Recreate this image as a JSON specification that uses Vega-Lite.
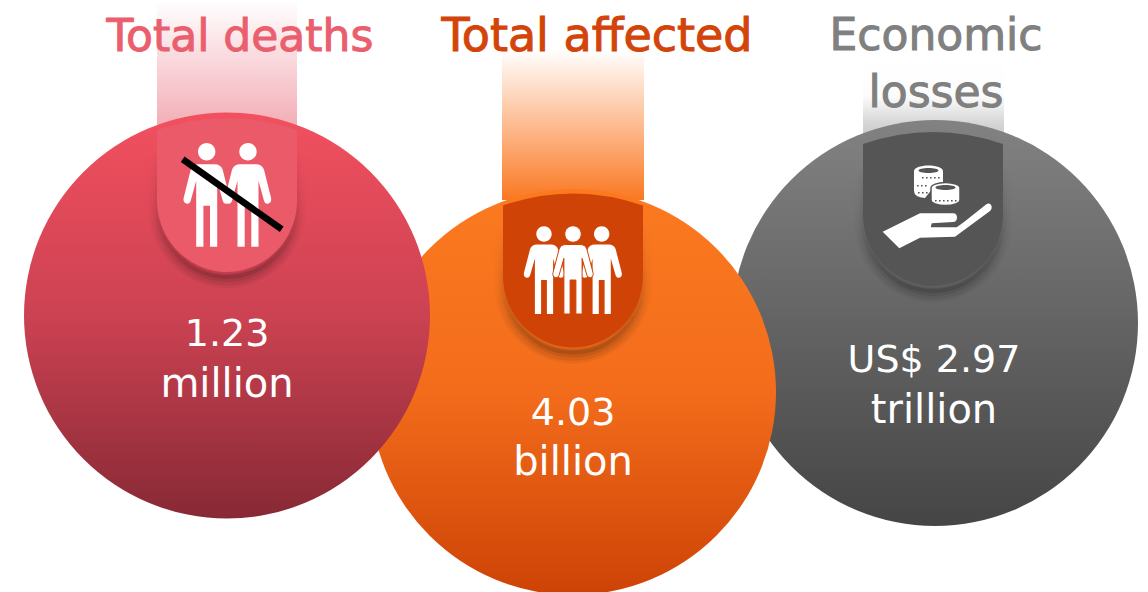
{
  "$schema": "https://vega.github.io/schema/vega-lite/v6.json",
  "width": 1148,
  "height": 592,
  "padding": 0,
  "autosize": {"type": "none"},
  "background": "white",
  "view": {"stroke": null},
  "data": {"values": [
    {"order": 1, "metric": "Total deaths", "title": "Total deaths", "figure": "1.23", "unit": "million"},
    {"order": 2, "metric": "Total affected", "title": "Total affected", "figure": "4.03", "unit": "billion"},
    {"order": 3, "metric": "Economic losses", "title": "Economic\nlosses", "figure": "US$ 2.97", "unit": "trillion"}
  ]},
  "resolve": {"scale": {"x": "independent", "y": "independent", "color": "independent", "size": "independent"}},
  "encoding": {
    "x": {"field": "order", "type": "quantitative", "axis": null, "scale": {"domain": [1, 2, 3], "range": [227, 573, 933], "zero": false, "nice": false}},
    "y": {"field": "order", "type": "quantitative", "axis": null, "scale": {"domain": [1, 2, 3], "range": [195, 270.5, 209], "zero": false, "nice": false}}
  },
  "layer": [
    {
      "transform": [{"filter": "datum.order === 3"}],
      "mark": {"type": "point", "filled": true, "opacity": 1, "size": 4, "shape": "M-70.5,0 L70.5,0 L70.5,90 L-70.5,90 Z",
        "color": {"gradient": "linear", "x1": 0, "y1": 0, "x2": 0, "y2": 1, "stops": [{"offset": 0, "color": "#ffffff"}, {"offset": 0.4, "color": "#fcfcfc"}, {"offset": 0.7, "color": "#d6d6d6"}, {"offset": 1, "color": "#c0c0c0"}]}},
      "encoding": {
        "x": {"field": "order", "type": "quantitative", "axis": null, "scale": {"domain": [1, 2, 3], "range": [227, 573, 933.5], "zero": false, "nice": false}},
        "y": {"field": "order", "type": "quantitative", "axis": null, "scale": {"domain": [1, 2, 3], "range": [0, 50, 60], "zero": false, "nice": false}}
      }
    },
    {
      "transform": [{"filter": "datum.order === 3"}],
      "mark": {"type": "point", "filled": true, "opacity": 1, "shape": "circle", "size": 164836,
        "color": {"gradient": "linear", "x1": 0, "y1": 0, "x2": 0, "y2": 1, "stops": [{"offset": 0, "color": "#828282"}, {"offset": 1, "color": "#454545"}]}},
      "encoding": {
        "x": {"field": "order", "type": "quantitative", "axis": null, "scale": {"domain": [1, 2, 3], "range": [227, 573, 935], "zero": false, "nice": false}},
        "y": {"field": "order", "type": "quantitative", "axis": null, "scale": {"domain": [1, 2, 3], "range": [315.5, 392, 323], "zero": false, "nice": false}}
      }
    },
    {
      "transform": [{"filter": "datum.order === 2"}],
      "mark": {"type": "point", "filled": true, "opacity": 1, "size": 4, "shape": "M-71,0 L71,0 L71,150 L-71,150 Z",
        "color": {"gradient": "linear", "x1": 0, "y1": 0, "x2": 0, "y2": 1, "stops": [{"offset": 0, "color": "#ffffff"}, {"offset": 1, "color": "#fa7822"}]}},
      "encoding": {
        "y": {"field": "order", "type": "quantitative", "axis": null, "scale": {"domain": [1, 2, 3], "range": [0, 50, 60], "zero": false, "nice": false}}
      }
    },
    {
      "transform": [{"filter": "datum.order === 2"}],
      "mark": {"type": "point", "filled": true, "opacity": 1, "shape": "circle", "size": 164836,
        "color": {"gradient": "linear", "x1": 0, "y1": 0, "x2": 0, "y2": 1, "stops": [{"offset": 0, "color": "#fb7a20"}, {"offset": 0.5, "color": "#f36c1b"}, {"offset": 1, "color": "#cd4306"}]}},
      "encoding": {
        "x": {"field": "order", "type": "quantitative", "axis": null, "scale": {"domain": [1, 2, 3], "range": [227, 573, 935], "zero": false, "nice": false}},
        "y": {"field": "order", "type": "quantitative", "axis": null, "scale": {"domain": [1, 2, 3], "range": [315.5, 392, 323], "zero": false, "nice": false}}
      }
    },
    {
      "transform": [{"filter": "datum.order === 1"}],
      "mark": {"type": "point", "filled": true, "opacity": 1, "size": 4, "shape": "M-70,0 L70,0 L70,135 L-70,135 Z",
        "color": {"gradient": "linear", "x1": 0, "y1": 0, "x2": 0, "y2": 1, "stops": [{"offset": 0, "color": "#ffffff"}, {"offset": 1, "color": "#f2a8b1"}]}},
      "encoding": {
        "y": {"field": "order", "type": "quantitative", "axis": null, "scale": {"domain": [1, 2, 3], "range": [0, 50, 60], "zero": false, "nice": false}}
      }
    },
    {
      "transform": [{"filter": "datum.order === 1"}],
      "mark": {"type": "point", "filled": true, "opacity": 1, "shape": "circle", "size": 164836,
        "color": {"gradient": "linear", "x1": 0, "y1": 0, "x2": 0, "y2": 1, "stops": [{"offset": 0, "color": "#f2505f"}, {"offset": 0.5, "color": "#cc4252"}, {"offset": 1, "color": "#872935"}]}},
      "encoding": {
        "x": {"field": "order", "type": "quantitative", "axis": null, "scale": {"domain": [1, 2, 3], "range": [227, 573, 935], "zero": false, "nice": false}},
        "y": {"field": "order", "type": "quantitative", "axis": null, "scale": {"domain": [1, 2, 3], "range": [315.5, 392, 323], "zero": false, "nice": false}}
      }
    },
    {"mark": {"type": "point", "filled": false, "fillOpacity": 0, "opacity": 1, "strokeOpacity": 0.05, "strokeWidth": 18, "yOffset": 7, "size": 4, "shape": "M-70,-55 L70,-55 L70,5 C70,48 35,77 0,77 C-35,77 -70,48 -70,5 Z",
      "stroke": {"gradient": "linear", "x1": 0, "y1": 0, "x2": 0, "y2": 1, "stops": [{"offset": 0, "color": "rgba(0,0,0,0)"}, {"offset": 0.5, "color": "rgba(0,0,0,0.35)"}, {"offset": 1, "color": "rgba(0,0,0,1)"}]}}},
    {"mark": {"type": "point", "filled": false, "fillOpacity": 0, "opacity": 1, "strokeOpacity": 0.07, "strokeWidth": 13, "yOffset": 7, "size": 4, "shape": "M-70,-55 L70,-55 L70,5 C70,48 35,77 0,77 C-35,77 -70,48 -70,5 Z",
      "stroke": {"gradient": "linear", "x1": 0, "y1": 0, "x2": 0, "y2": 1, "stops": [{"offset": 0, "color": "rgba(0,0,0,0)"}, {"offset": 0.5, "color": "rgba(0,0,0,0.35)"}, {"offset": 1, "color": "rgba(0,0,0,1)"}]}}},
    {"mark": {"type": "point", "filled": false, "fillOpacity": 0, "opacity": 1, "strokeOpacity": 0.09, "strokeWidth": 8, "yOffset": 6, "size": 4, "shape": "M-70,-55 L70,-55 L70,5 C70,48 35,77 0,77 C-35,77 -70,48 -70,5 Z",
      "stroke": {"gradient": "linear", "x1": 0, "y1": 0, "x2": 0, "y2": 1, "stops": [{"offset": 0, "color": "rgba(0,0,0,0)"}, {"offset": 0.5, "color": "rgba(0,0,0,0.35)"}, {"offset": 1, "color": "rgba(0,0,0,1)"}]}}},
    {"mark": {"type": "point", "filled": false, "fillOpacity": 0, "opacity": 1, "strokeOpacity": 0.12, "strokeWidth": 4, "yOffset": 5, "size": 4, "shape": "M-70,-55 L70,-55 L70,5 C70,48 35,77 0,77 C-35,77 -70,48 -70,5 Z",
      "stroke": {"gradient": "linear", "x1": 0, "y1": 0, "x2": 0, "y2": 1, "stops": [{"offset": 0, "color": "rgba(0,0,0,0)"}, {"offset": 0.5, "color": "rgba(0,0,0,0.35)"}, {"offset": 1, "color": "rgba(0,0,0,1)"}]}}},
    {
      "mark": {"type": "point", "filled": true, "opacity": 1, "size": 4, "shape": "M-70,-65 Q0,-89 70,-65 L70,5 C70,48 35,77 0,77 C-35,77 -70,48 -70,5 Z"},
      "encoding": {
        "color": {"field": "metric", "type": "nominal", "legend": null, "scale": {"domain": ["Total deaths", "Total affected", "Economic losses"], "range": ["#ea5a69", "#cf4406", "#555555"]}}
      }
    },
    {
      "transform": [{"filter": "datum.order === 1"}],
      "mark": {"type": "point", "filled": true, "opacity": 1, "size": 4, "color": "#ffffff",
        "shape": "M-29,-43.3 a8.7,8.7 0 1 1 17.4,0 a8.7,8.7 0 1 1 -17.4,0 z M-28.3,-30.8 l16,0 q6,0 8,5.5 l7,28 q1,5 -3,6 q-3,0.5 -4,-3 l-5.5,-20 l0,66 l-7.2,0 l0,-41 l-6.6,0 l0,41 l-7.2,0 l0,-66 l-5.5,20 q-1,3.5 -4,3 q-4,-1 -3,-6 l7,-28 q2,-5.5 8,-5.5 z M12.3,-43.3 a8.7,8.7 0 1 1 17.4,0 a8.7,8.7 0 1 1 -17.4,0 z M13,-30.8 l16,0 q6,0 8,5.5 l7,28 q1,5 -3,6 q-3,0.5 -4,-3 l-5.5,-20 l0,66 l-7.2,0 l0,-41 l-6.6,0 l0,41 l-7.2,0 l0,-66 l-5.5,20 q-1,3.5 -4,3 q-4,-1 -3,-6 l7,-28 q2,-5.5 8,-5.5 z"}
    },
    {
      "transform": [{"filter": "datum.order === 1"}],
      "mark": {"type": "point", "filled": true, "opacity": 1, "size": 4, "color": "#000000", "shape": "M-42.4,-38.4 L56.6,31.6 L52.8,37 L-46.2,-33 Z"}
    },
    {
      "transform": [{"filter": "datum.order === 2"}],
      "mark": {"type": "point", "filled": true, "opacity": 1, "size": 4, "color": "#ffffff",
        "shape": "M-36.7,-36.5 a7.7,7.7 0 1 1 15.4,0 a7.7,7.7 0 1 1 -15.4,0 z M-36,-26 l14,0 q5.2,0 6.9,4.6 l6.1,23.5 q0.9,4.2 -2.6,5.1 q-2.6,0.4 -3.5,-2.5 l-4.8,-16.8 l0,55.6 l-6.2,0 l0,-34 l-5.8,0 l0,34 l-6.2,0 l0,-55.6 l-4.8,16.8 q-0.9,2.9 -3.5,2.5 q-3.5,-0.9 -2.6,-5.1 l6.1,-23.5 q1.7,-4.6 6.9,-4.6 z M21,-36.5 a7.7,7.7 0 1 1 15.4,0 a7.7,7.7 0 1 1 -15.4,0 z M21.7,-26 l14,0 q5.2,0 6.9,4.6 l6.1,23.5 q0.9,4.2 -2.6,5.1 q-2.6,0.4 -3.5,-2.5 l-4.8,-16.8 l0,55.6 l-6.2,0 l0,-34 l-5.8,0 l0,34 l-6.2,0 l0,-55.6 l-4.8,16.8 q-0.9,2.9 -3.5,2.5 q-3.5,-0.9 -2.6,-5.1 l6.1,-23.5 q1.7,-4.6 6.9,-4.6 z"}
    },
    {
      "transform": [{"filter": "datum.order === 2"}],
      "mark": {"type": "point", "filled": true, "opacity": 1, "size": 4, "color": "#ffffff", "stroke": "#cf4406", "strokeWidth": 1,
        "shape": "M-8.2,-36.5 a8.2,8.2 0 1 1 16.4,0 a8.2,8.2 0 1 1 -16.4,0 z M-7,-26 l14,0 q5.2,0 6.9,4.6 l6.1,23.5 q0.9,4.2 -2.6,5.1 q-2.6,0.4 -3.5,-2.5 l-4.8,-16.8 l0,55.6 l-6.2,0 l0,-34 l-5.8,0 l0,34 l-6.2,0 l0,-55.6 l-4.8,16.8 q-0.9,2.9 -3.5,2.5 q-3.5,-0.9 -2.6,-5.1 l6.1,-23.5 q1.7,-4.6 6.9,-4.6 z"}
    },
    {
      "transform": [{"filter": "datum.order === 3"}],
      "mark": {"type": "point", "filled": true, "opacity": 1, "size": 4, "color": "#ffffff",
        "shape": "M-50.3,22.7 L-13,4.3 L20.3,4.3 Q24,4.5 24,8.5 Q24,12.8 20,13 L-1.3,14.3 L-2.3,18.3 L23.7,18.3 L31,13 L53.7,-5 Q57.5,-6.5 58.7,-2.3 Q59,0.5 57,2 L22,27.7 L-13,28.7 L-33.7,39.3 Z M-19,-38 a14.5,5.5 0 0 1 29,0 l0,11 l-10,6 l-8,10 q-11,-1 -11,-7 z"}
    },
    {
      "transform": [{"filter": "datum.order === 3"}],
      "mark": {"type": "point", "filled": true, "opacity": 1, "size": 4, "color": "#ffffff", "stroke": "#555555", "strokeWidth": 1.5,
        "shape": "M-2,-21 a14.5,5.5 0 0 1 29,0 l0,12 a14.5,5.5 0 0 1 -29,0 z"}
    },
    {
      "transform": [{"filter": "datum.order === 3"}],
      "mark": {"type": "point", "filled": true, "opacity": 1, "size": 4, "color": "#555555",
        "shape": "M-14.5,-38.5 a10,2.5 0 0 1 20,0 a10,2.5 0 0 1 -20,0 z M2.5,-21.5 a10,2.5 0 0 1 20,0 a10,2.5 0 0 1 -20,0 z M-11,-32 h1.6 v1.6 h-1.6 z M-7,-32 h1.6 v1.6 h-1.6 z M-3,-32 h1.6 v1.6 h-1.6 z M1,-32 h1.6 v1.6 h-1.6 z M5,-32 h1.6 v1.6 h-1.6 z M-16,-24 h1.6 v1.6 h-1.6 z M-12,-24 h1.6 v1.6 h-1.6 z M-8,-24 h1.6 v1.6 h-1.6 z M-15,-17 h1.6 v1.6 h-1.6 z M-11,-17 h1.6 v1.6 h-1.6 z M-7,-17 h1.6 v1.6 h-1.6 z M2,-9 h1.6 v1.6 h-1.6 z M6,-9 h1.6 v1.6 h-1.6 z M10,-9 h1.6 v1.6 h-1.6 z M14,-9 h1.6 v1.6 h-1.6 z M18,-9 h1.6 v1.6 h-1.6 z M22,-9 h1.6 v1.6 h-1.6 z"}
    },
    {
      "mark": {"type": "text", "font": "DejaVu Sans", "lineBreak": "\n", "lineHeight": 57, "align": "center", "baseline": "alphabetic", "strokeWidth": 1},
      "encoding": {
        "x": {"field": "order", "type": "quantitative", "axis": null, "scale": {"domain": [1, 2, 3], "range": [240, 597, 936], "zero": false, "nice": false}},
        "y": {"field": "order", "type": "quantitative", "axis": null, "scale": {"domain": [1, 2, 3], "range": [51, 51, 50], "zero": false, "nice": false}},
        "text": {"field": "title"},
        "size": {"field": "order", "type": "quantitative", "legend": null, "scale": {"domain": [1, 2, 3], "range": [44, 46, 44], "zero": false, "nice": false}},
        "color": {"field": "metric", "type": "nominal", "legend": null, "scale": {"domain": ["Total deaths", "Total affected", "Economic losses"], "range": ["#ea5f6e", "#d2440a", "#808080"]}},
        "stroke": {"field": "metric", "type": "nominal", "legend": null, "scale": {"domain": ["Total deaths", "Total affected", "Economic losses"], "range": ["#ea5f6e", "#d2440a", "#808080"]}}
      }
    },
    {
      "mark": {"type": "text", "font": "DejaVu Sans", "fontSize": 38, "align": "center", "baseline": "alphabetic", "color": "#ffffff"},
      "encoding": {
        "x": {"field": "order", "type": "quantitative", "axis": null, "scale": {"domain": [1, 2, 3], "range": [227, 573, 934], "zero": false, "nice": false}},
        "y": {"field": "order", "type": "quantitative", "axis": null, "scale": {"domain": [1, 2, 3], "range": [346, 425, 372], "zero": false, "nice": false}},
        "text": {"field": "figure"}
      }
    },
    {
      "mark": {"type": "text", "font": "DejaVu Sans", "fontSize": 40, "align": "center", "baseline": "alphabetic", "color": "#ffffff"},
      "encoding": {
        "x": {"field": "order", "type": "quantitative", "axis": null, "scale": {"domain": [1, 2, 3], "range": [227, 573, 934], "zero": false, "nice": false}},
        "y": {"field": "order", "type": "quantitative", "axis": null, "scale": {"domain": [1, 2, 3], "range": [397, 475, 423], "zero": false, "nice": false}},
        "text": {"field": "unit"}
      }
    }
  ]
}
